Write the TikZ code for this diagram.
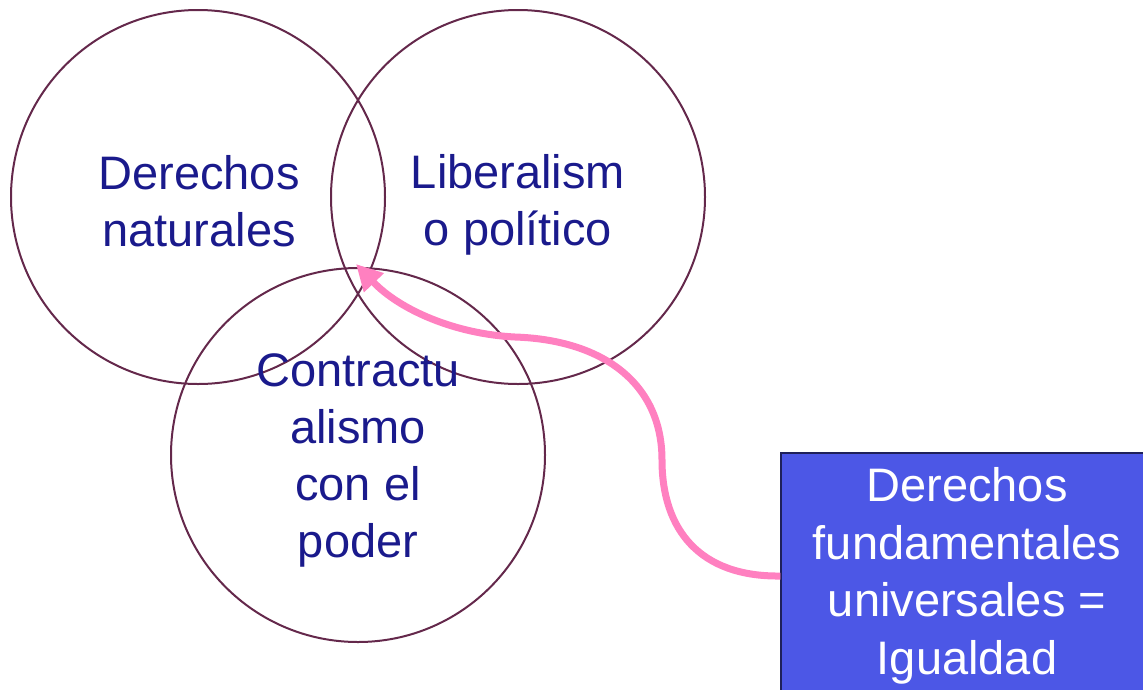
\documentclass[tikz,border=0pt]{standalone}
\usepackage{fontspec}
\setmainfont{Liberation Sans}
\usetikzlibrary{arrows.meta}
\definecolor{ringc}{RGB}{100,40,75}
\definecolor{txtc}{RGB}{26,26,140}
\definecolor{pinkc}{RGB}{255,128,192}
\definecolor{boxc}{RGB}{76,87,230}
\definecolor{boxline}{RGB}{30,32,90}
\begin{document}
\begin{tikzpicture}[x=1pt,y=-1pt,
  ring/.style={draw=ringc,line width=2pt},
  ringtext/.style={text=txtc,align=center,font=\fontsize{47}{57}\selectfont},
  callout/.style={draw=boxline,line width=1.5pt,fill=boxc,text=white,align=center,
    minimum width=372pt,minimum height=246pt,inner sep=0pt,font=\fontsize{47}{57.5}\selectfont},
  pinkarrow/.style={draw=pinkc,line width=7pt,-{Triangle[length=26pt,width=26pt]}}]
\useasboundingbox (0,0) rectangle (1143,689);
\draw[ring] (198,197) circle (187);
\draw[ring] (518,197) circle (187);
\draw[ring] (358,455) circle (187);
\node[ringtext] (t1) at (199,201) {Derechos\\naturales};
\node[ringtext] (t2) at (518,205) {Liberalism\\o político};
\node[ringtext] (t3) at (358,460) {Contractu\\alismo\\con el\\poder};
\node[callout] (box) at (967,576) {\raisebox{-3pt}{\parbox{372pt}{\centering Derechos\\fundamentales\\universales =\\Igualdad}}};
\coordinate (tip) at (356,264);
\draw[pinkarrow] (box.west) .. controls (700,577) and (662,530) .. (662,460)
  .. controls (662,385) and (605,340) .. (515,337)
  .. controls (455,334) and (400,310) .. (tip);
\end{tikzpicture}
\end{document}
